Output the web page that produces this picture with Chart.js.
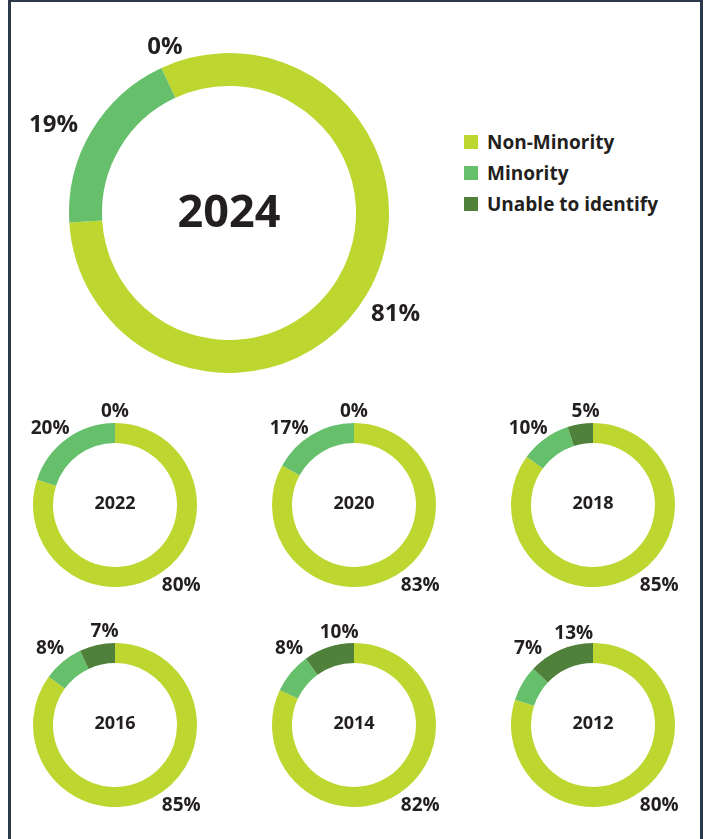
<!DOCTYPE html>
<html>
<head>
<meta charset="utf-8">
<script src="https://cdn.jsdelivr.net/npm/chart.js@4.4.0/dist/chart.umd.min.js"></script>
<style>
  html, body { margin: 0; padding: 0; background: #fff; overflow: hidden; }
  body { width: 707px; height: 839px; position: relative; font-family: 'Open Sans', sans-serif; }
  .frame { position: absolute; left: 8px; top: 0; width: 695px; height: 839px; box-sizing: border-box;
           border-left: 3px solid #2b394b; border-right: 3px solid #2b394b; border-top: 2px solid #2b394b; }
  canvas { position: absolute; }
  #legend { position: absolute; left: 464px; top: 126px; }
  .row { display: flex; align-items: center; height: 31px; }
  .sw { width: 14px; height: 14px; margin-right: 9px; }
  .row span { font-weight: 700; font-size: 19px; color: #231f20; }
</style>
</head>
<body>
<div class="frame"></div>
<canvas id="big" width="440" height="400" style="left:9px;top:13px"></canvas>
<div id="legend"></div>
<canvas id="c1" width="200" height="216" style="left:15px;top:397px"></canvas>
<canvas id="c2" width="200" height="216" style="left:254px;top:397px"></canvas>
<canvas id="c3" width="200" height="216" style="left:493px;top:397px"></canvas>
<canvas id="c4" width="200" height="216" style="left:15px;top:617px"></canvas>
<canvas id="c5" width="200" height="216" style="left:254px;top:617px"></canvas>
<canvas id="c6" width="200" height="216" style="left:493px;top:617px"></canvas>
<script>
// data
const years = ['2024', '2022', '2020', '2018', '2016', '2014', '2012'];
const categories = ['Non-Minority', 'Minority', 'Unable to identify'];
const nonMinority = [81, 80, 83, 85, 85, 82, 80];
const minority = [19, 20, 17, 10, 8, 8, 7];
const unable = [0, 0, 0, 5, 7, 10, 13];

const colors = ['#bdd630', '#65bf6b', '#4f813a'];
const textColor = '#231f20';

// legend
const legend = document.getElementById('legend');
categories.forEach((c, i) => {
  const row = document.createElement('div');
  row.className = 'row';
  row.innerHTML = '<div class="sw" style="background:' + colors[i] + '"></div><span>' + c + '</span>';
  legend.appendChild(row);
});

// angle in degrees, clockwise from 12 o'clock
function labelAngle(mode, arc) {
  let mid = ((arc.startAngle + arc.endAngle) / 2) * 180 / Math.PI + 90;
  while (mid > 180) mid -= 360;
  while (mid <= -180) mid += 360;
  if (mode === 'mid') return mid;
  if (mode === 'half') return mid / 2;
  return mode;
}

const ringText = {
  id: 'ringText',
  afterDatasetsDraw(chart, args, opts) {
    const ctx = chart.ctx;
    const arcs = chart.getDatasetMeta(0).data;
    const cx = arcs[0].x, cy = arcs[0].y, outer = arcs[0].outerRadius;
    const values = chart.data.datasets[0].data;
    ctx.save();
    ctx.fillStyle = textColor;
    ctx.textAlign = 'center';
    ctx.textBaseline = 'alphabetic';
    ctx.font = 'bold ' + opts.yearSize + 'px "Open Sans"';
    ctx.fillText(opts.year, cx, cy + opts.yearSize * opts.yearShift);
    ctx.font = 'bold ' + opts.pctSize + 'px "Open Sans"';
    arcs.forEach((arc, i) => {
      const a = labelAngle(opts.angles[i], arc) * Math.PI / 180;
      const r = outer + opts.gaps[i];
      const x = cx + r * Math.sin(a);
      const y = cy - r * Math.cos(a);
      ctx.fillText(values[i] + '%', x, y + opts.pctSize * 0.357);
    });
    ctx.restore();
  }
};

function makeChart(id, idx, style) {
  return new Chart(document.getElementById(id), {
    type: 'doughnut',
    data: {
      labels: categories,
      datasets: [{
        data: [nonMinority[idx], minority[idx], unable[idx]],
        backgroundColor: colors,
        borderWidth: 0,
        hoverOffset: 0
      }]
    },
    options: {
      responsive: false,
      animation: false,
      events: [],
      rotation: style.rotation,
      radius: style.radius,
      cutout: style.cutout,
      plugins: {
        legend: { display: false },
        tooltip: { enabled: false },
        ringText: {
          year: years[idx],
          yearSize: style.yearSize,
          yearShift: style.yearShift,
          pctSize: style.pctSize,
          angles: style.angles,
          gaps: style.gaps
        }
      }
    },
    plugins: [ringText]
  });
}

const bigStyle = { rotation: -25, radius: 160, cutout: '79.4%', yearSize: 45, yearShift: 0.3,
                   pctSize: 24, angles: ['mid', -63, -21], gaps: [34, 37, 19] };
const smallStyle = { rotation: 0, radius: 82, cutout: '75.6%', yearSize: 18, yearShift: 0.2,
                     pctSize: 19, angles: [140, -40, 'half'], gaps: [21, 19, 13] };

makeChart('big', 0, bigStyle);
['c1', 'c2', 'c3', 'c4', 'c5', 'c6'].forEach((id, i) => makeChart(id, i + 1, smallStyle));
</script>
</body>
</html>
